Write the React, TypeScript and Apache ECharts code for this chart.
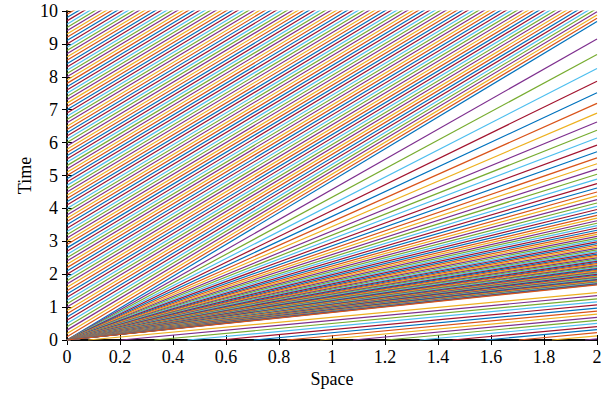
import React, { useEffect, useRef } from "react";
import * as echarts from "echarts";

// Upper family: characteristics entering through x = 0 at these times
const boundaryStartTimes = [
  0, 0.1, 0.2, 0.3, 0.4, 0.5, 0.6, 0.7, 0.8, 0.9,
  1, 1.1, 1.2, 1.3, 1.4, 1.5, 1.6, 1.7, 1.8, 1.9,
  2, 2.1, 2.2, 2.3, 2.4, 2.5, 2.6, 2.7, 2.8, 2.9,
  3, 3.1, 3.2, 3.3, 3.4, 3.5, 3.6, 3.7, 3.8, 3.9,
  4, 4.1, 4.2, 4.3, 4.4, 4.5, 4.6, 4.7, 4.8, 4.9,
  5, 5.1, 5.2, 5.3, 5.4, 5.5, 5.6, 5.7, 5.8, 5.9,
  6, 6.1, 6.2, 6.3, 6.4, 6.5, 6.6, 6.7, 6.8, 6.9,
  7, 7.1, 7.2, 7.3, 7.4, 7.5, 7.6, 7.7, 7.8, 7.9,
  8, 8.1, 8.2, 8.3, 8.4, 8.5, 8.6, 8.7, 8.8, 8.9,
  9, 9.1, 9.2, 9.3, 9.4, 9.5, 9.6, 9.7, 9.8, 9.9, 10,
];
const boundarySpeed = 0.2066;

// Fan from the origin: characteristic speeds
const fanSpeeds = [
  0.2186, 0.2305, 0.2424, 0.2543, 0.2662, 0.2781, 0.29, 0.3019, 0.3138, 0.3257,
  0.3376, 0.3495, 0.3614, 0.3733, 0.3852, 0.3971, 0.409, 0.4209, 0.4328, 0.4447,
  0.4566, 0.4685, 0.4804, 0.4923, 0.5042, 0.5161, 0.528, 0.5399, 0.5518, 0.5637,
  0.5756, 0.5875, 0.5994, 0.6113, 0.6232, 0.6351, 0.647, 0.6589, 0.6708, 0.6827,
  0.6946, 0.7065, 0.7184, 0.7303, 0.7422, 0.7541, 0.766, 0.7779, 0.7898, 0.8017,
  0.8136, 0.8255, 0.8374, 0.8493, 0.8612, 0.8731, 0.885, 0.8969, 0.9088, 0.9207,
  0.9326, 0.9445, 0.9564, 0.9683, 0.9802, 0.9921, 1.004, 1.0159, 1.0278, 1.0397,
  1.0516, 1.0635, 1.0754, 1.0873, 1.0992, 1.1111, 1.123, 1.1349, 1.1468, 1.1587,
  1.1706, 1.1825, 1.1944,
];

// Lower family: characteristics starting on t = 0 at these positions
const initialStartPositions = [
  0.08, 0.205, 0.33, 0.455, 0.58, 0.705, 0.83, 0.955, 1.08, 1.205, 1.33, 1.455,
  1.58, 1.705, 1.83, 1.955,
];
const initialSpeed = 1.333;

const xTicks = [0, 0.2, 0.4, 0.6, 0.8, 1, 1.2, 1.4, 1.6, 1.8, 2];
const yTicks = [0, 1, 2, 3, 4, 5, 6, 7, 8, 9, 10];

const palette = ["#0072BD", "#D95319", "#EDB120", "#7E2F8E", "#77AC30", "#4DBEEE", "#A2142F"];

const X_MAX = 2;

export default function App() {
  const ref = useRef<HTMLDivElement>(null);
  useEffect(() => {
    if (!ref.current) return;
    const chart = echarts.init(ref.current, null, { renderer: "svg" });
    const lines: number[][][] = [];
    boundaryStartTimes.forEach((t0) => lines.push([[0, t0], [X_MAX, t0 + X_MAX / boundarySpeed]]));
    fanSpeeds.forEach((c) => lines.push([[0, 0], [X_MAX, X_MAX / c]]));
    initialStartPositions.forEach((x0) => lines.push([[x0, 0], [X_MAX, (X_MAX - x0) / initialSpeed]]));
    const series = lines.map((d, i) => ({
      type: "line",
      data: d,
      symbol: "none",
      silent: true,
      clip: true,
      xAxisIndex: 0,
      yAxisIndex: 0,
      lineStyle: { width: 1.2, color: palette[i % palette.length] },
    }));
    const font = "'Liberation Serif', 'DejaVu Serif', serif";
    const axLine = { show: true, lineStyle: { color: "#000", width: 1.5 } };
    const tick = { show: true, inside: true, length: 5, lineStyle: { color: "#000", width: 1 } };
    chart.setOption({
      animation: false,
      backgroundColor: "#fff",
      grid: { left: 67, top: 11, width: 530, height: 329, containLabel: false },
      xAxis: [
        {
          type: "value", min: 0, max: 2, interval: 0.2, position: "bottom",
          name: "Space", nameLocation: "middle", nameGap: 30, nameMoveOverlap: false,
          nameTextStyle: { fontFamily: font, fontSize: 18, color: "#000" },
          axisLine: axLine, axisTick: tick, splitLine: { show: false },
          axisLabel: {
            fontFamily: font, fontSize: 18, color: "#000", margin: 8,
            customValues: xTicks, formatter: (v: number) => String(Math.round(v * 10) / 10),
          },
        },
        {
          type: "value", min: 0, max: 2, interval: 0.2, position: "top",
          axisLine: axLine, axisTick: tick, splitLine: { show: false }, axisLabel: { show: false },
        },
      ],
      yAxis: [
        {
          type: "value", min: 0, max: 10, interval: 1, position: "left",
          name: "Time", nameLocation: "middle", nameGap: 33, nameRotate: 90, nameMoveOverlap: false,
          nameTextStyle: { fontFamily: font, fontSize: 18, color: "#000" },
          axisLine: axLine, axisTick: tick, splitLine: { show: false },
          axisLabel: { fontFamily: font, fontSize: 18, color: "#000", margin: 9, customValues: yTicks },
        },
        {
          type: "value", min: 0, max: 10, interval: 1, position: "right",
          axisLine: axLine, axisTick: tick, splitLine: { show: false }, axisLabel: { show: false },
        },
      ],
      series,
    });
    return () => chart.dispose();
  }, []);
  return (
    <div
      ref={ref}
      style={{ position: "fixed", left: 0, top: 0, width: 611, height: 407, background: "#fff" }}
    />
  );
}
